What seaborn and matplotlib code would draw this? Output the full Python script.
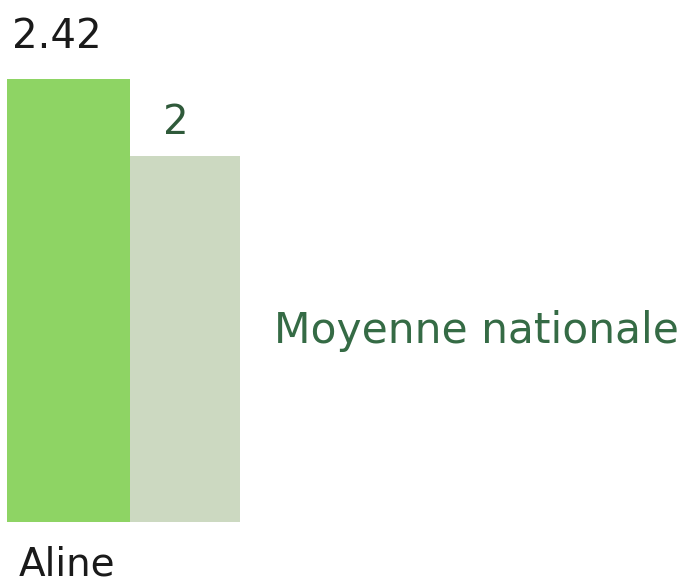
import pandas as pd
import matplotlib
matplotlib.use("Agg")
import matplotlib.pyplot as plt
import seaborn as sns

series = ["Aline", "Moyenne nationale"]
values = [2.42, 2]
value_labels = ["2.42", "2"]
colors = ["#8ED464", "#CCD9C1"]

sns.set_style("white")
plt.rcParams['font.family'] = ['DejaVu Sans']

fig = plt.figure(figsize=(6.82, 5.86), dpi=100)
ax = fig.add_axes([7 / 682, 64 / 586, 233 / 682, 443 / 586])

df = pd.DataFrame({"serie": series, "valeur": values})
sns.barplot(data=df, x="serie", y="valeur", hue="serie", palette=colors,
            width=1.0, legend=False, ax=ax, saturation=1, linewidth=0)

# first bar is a bit wider than the second one
split = -0.5 + 123 / 116.5
ax.patches[0].set_width(split + 0.5)
ax.patches[1].set_x(split)
ax.patches[1].set_width(1.5 - split)

ax.set_xlim(-0.5, 1.5)
ax.set_ylim(0, values[0])
sns.despine(ax=ax, left=True, bottom=True)
ax.set_xticks([])
ax.set_yticks([])
ax.set_xlabel("")
ax.set_ylabel("")

# value labels above the bars
ax.text(-0.07, values[0] + 0.23, value_labels[0], ha="center", va="center",
        fontsize=29, color="#1a1a1a", clip_on=False)
ax.text(0.95, values[1] + 0.18, value_labels[1], ha="center", va="center",
        fontsize=29, color="#2F5A3A", clip_on=False)

# category label under the first bar
fig.text(67 / 682, 2 / 586, series[0], ha="center", va="bottom",
         fontsize=28, color="#1a1a1a")

# name of the second series, to the right
fig.text(274 / 682, 1 - 331 / 586, series[1], ha="left", va="center",
         fontsize=30.5, color="#356B45")

fig.savefig("out.png", dpi=100)
